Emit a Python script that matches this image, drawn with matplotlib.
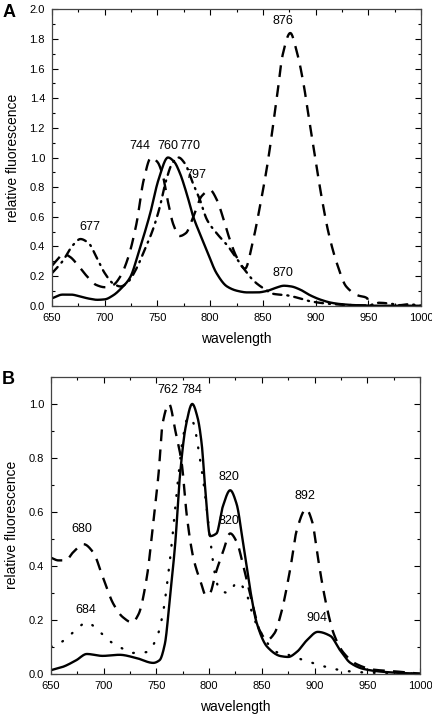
import numpy as np
import matplotlib
matplotlib.use("Agg")
import matplotlib.pyplot as plt
from matplotlib.ticker import MultipleLocator, FormatStrFormatter

plt.rcParams["font.family"] = ["Liberation Sans", "DejaVu Sans"]

# ── Panel A ──────────────────────────────────────────────────────────────────
a_solid_x = [650, 660, 668, 677, 685, 693, 700, 708, 716, 724, 733, 743, 751, 760,
             766, 771, 778, 784, 790, 797, 806, 816, 826, 835, 845, 854, 862, 870,
             877, 885, 895, 905, 915, 925, 940, 960, 1000]
a_solid_y = [0.05, 0.075, 0.075, 0.062, 0.048, 0.04, 0.043, 0.07, 0.12, 0.19, 0.38, 0.62,
             0.85, 1.0, 0.97, 0.9, 0.75, 0.6, 0.49, 0.37, 0.22, 0.13, 0.1, 0.09, 0.09,
             0.1, 0.12, 0.135, 0.13, 0.11, 0.07, 0.04, 0.02, 0.01, 0.003, 0.0, 0.0]

a_dash_x = [650, 655, 661, 667, 675, 683, 692, 700, 708, 715, 722, 730, 737, 744, 750,
            755, 760, 765, 771, 777, 784, 792, 800, 806, 812, 818, 825, 833, 841, 848,
            854, 863, 869, 876, 882, 888, 894, 900, 906, 912, 920, 929, 940, 949, 950.5]
a_dash_y = [0.27, 0.31, 0.35, 0.33, 0.27, 0.2, 0.14, 0.125, 0.14, 0.2, 0.32, 0.55, 0.85,
            1.0, 0.97, 0.88, 0.7, 0.55, 0.47, 0.49, 0.6, 0.74, 0.78, 0.72, 0.6, 0.46,
            0.33, 0.25, 0.45, 0.7, 0.94, 1.39, 1.7, 1.84, 1.72, 1.52, 1.25, 0.98, 0.72,
            0.5, 0.29, 0.13, 0.07, 0.05, 0.0]

a_dd_x = [650, 660, 670, 677, 685, 692, 700, 708, 715, 722, 730, 738, 745, 752, 758,
          764, 770, 776, 784, 790, 797, 806, 816, 824, 833, 841, 850, 860, 873, 885,
          895, 910, 930, 950, 960, 970, 980, 988, 1000]
a_dd_y = [0.22, 0.3, 0.41, 0.45, 0.42, 0.33, 0.22, 0.15, 0.13, 0.16, 0.25, 0.38, 0.5,
          0.66, 0.84, 0.96, 1.0, 0.96, 0.82, 0.72, 0.58, 0.49, 0.41, 0.33, 0.24, 0.17,
          0.12, 0.08, 0.07, 0.05, 0.03, 0.015, 0.005, 0.002, 0.02, 0.015, 0.004, 0.01, 0.0]

a_labels = ["876", "744", "760", "770", "797", "677", "870"]
a_label_x = [869, 733, 760, 781, 786, 686, 869]
a_label_y = [1.92, 1.08, 1.08, 1.08, 0.88, 0.53, 0.22]

# ── Panel B ──────────────────────────────────────────────────────────────────
b_solid_x = [650, 661, 674, 684, 699, 715, 731, 747, 753, 758, 763, 768, 772, 778,
             784, 789, 793, 796, 801, 807, 813, 820, 826, 832, 839, 845, 855, 868,
             875, 883, 893, 903, 915, 924, 934, 946, 962, 980, 1000]
b_solid_y = [0.013, 0.025, 0.05, 0.073, 0.066, 0.07, 0.058, 0.04, 0.05, 0.11, 0.29,
             0.49, 0.72, 0.92, 1.0, 0.95, 0.85, 0.7, 0.51, 0.52, 0.62, 0.68, 0.63, 0.49,
             0.31, 0.19, 0.1, 0.065, 0.062, 0.08, 0.125, 0.155, 0.14, 0.088, 0.04,
             0.018, 0.008, 0.003, 0.0]

b_dash_x = [650, 657, 664, 671, 681, 690, 699, 709, 718, 727, 733, 741, 747, 752, 756,
            762, 768, 774, 779, 785, 792, 797, 801, 806, 813, 820, 826, 833, 841, 848,
            855, 862, 868, 877, 883, 892, 898, 902, 907, 912, 918, 927, 940, 956, 978,
            1000]
b_dash_y = [0.43, 0.42, 0.42, 0.45, 0.48, 0.45, 0.36, 0.26, 0.21, 0.19, 0.22, 0.36,
            0.56, 0.74, 0.93, 1.0, 0.9, 0.78, 0.58, 0.43, 0.34, 0.29, 0.3, 0.37, 0.45,
            0.52, 0.49, 0.39, 0.26, 0.16, 0.125, 0.15, 0.22, 0.39, 0.53, 0.61, 0.56,
            0.46, 0.34, 0.24, 0.15, 0.08, 0.035, 0.015, 0.008, 0.0]

b_dot_x = [650, 661, 673, 684, 695, 706, 717, 728, 741, 750, 756, 761, 765, 770, 775,
           780, 785, 790, 795, 801, 805, 810, 818, 827, 835, 842, 848, 856, 864, 875,
           886, 898, 911, 922, 935, 950, 1000]
b_dot_y = [0.1, 0.12, 0.16, 0.19, 0.16, 0.12, 0.095, 0.077, 0.08, 0.13, 0.22, 0.36,
           0.5, 0.7, 0.87, 0.95, 0.93, 0.83, 0.7, 0.5, 0.38, 0.31, 0.3, 0.34, 0.3, 0.21,
           0.16, 0.11, 0.08, 0.07, 0.055, 0.04, 0.025, 0.015, 0.008, 0.004, 0.0]

b_labels = ["762", "784", "820", "820", "892", "680", "684", "904"]
b_label_x = [761, 784, 819, 819, 891, 679, 683, 902]
b_label_y = [1.05, 1.05, 0.73, 0.565, 0.66, 0.537, 0.237, 0.206]


def pchip(xs, ys, n=1200):
    """Monotone cubic (PCHIP) through the read-off points, for a smooth trace."""
    x = np.asarray(xs, float)
    y = np.asarray(ys, float)
    h = np.diff(x)
    d = np.diff(y) / h
    m = np.zeros_like(y)
    for k in range(1, len(x) - 1):
        if d[k - 1] * d[k] > 0:
            w1 = 2 * h[k] + h[k - 1]
            w2 = h[k] + 2 * h[k - 1]
            m[k] = (w1 + w2) / (w1 / d[k - 1] + w2 / d[k])
    m[0], m[-1] = d[0], d[-1]
    xx = np.linspace(x[0], x[-1], n)
    i = np.clip(np.searchsorted(x, xx) - 1, 0, len(x) - 2)
    t = (xx - x[i]) / h[i]
    h00 = 2 * t**3 - 3 * t**2 + 1
    h10 = t**3 - 2 * t**2 + t
    h01 = -2 * t**3 + 3 * t**2
    h11 = t**3 - t**2
    yy = h00 * y[i] + h10 * h[i] * m[i] + h01 * y[i + 1] + h11 * h[i] * m[i + 1]
    return xx, yy


def style_axes(ax, ymax, ymajor):
    ax.set_xlim(650, 1000)
    ax.set_ylim(0, ymax)
    ax.xaxis.set_major_locator(MultipleLocator(50))
    ax.xaxis.set_minor_locator(MultipleLocator(25))
    ax.yaxis.set_major_locator(MultipleLocator(ymajor))
    ax.yaxis.set_minor_locator(MultipleLocator(0.1))
    ax.yaxis.set_major_formatter(FormatStrFormatter("%.1f"))
    ax.tick_params(which="both", direction="in", top=True, right=True,
                   labelsize=8, pad=5, width=0.8)
    ax.tick_params(which="major", length=4)
    ax.tick_params(which="minor", length=2.5)
    for s in ax.spines.values():
        s.set_linewidth(0.9)
        s.set_color("#444444")
    ax.set_xlabel("wavelength", fontsize=10, labelpad=7)
    ax.set_ylabel("relative fluorescence", fontsize=10, labelpad=7)


fig = plt.figure(figsize=(4.32, 7.16), dpi=100)
axA = fig.add_axes([0.1204, 0.573, 0.8542, 0.414])
axB = fig.add_axes([0.118, 0.0591, 0.8542, 0.4144])

lw = 1.7
axA.plot(*pchip(a_solid_x, a_solid_y), color="black", lw=lw)
axA.plot(*pchip(a_dash_x, a_dash_y), color="black", lw=lw, dashes=(5, 3.5))
axA.plot(*pchip(a_dd_x, a_dd_y), color="black", lw=lw,
         dashes=(3.5, 2.5, 0.5, 2.5), dash_capstyle="round")
for t, x, y in zip(a_labels, a_label_x, a_label_y):
    axA.text(x, y, t, ha="center", va="center", fontsize=9)
style_axes(axA, 2.0, 0.2)

axB.plot(*pchip(b_solid_x, b_solid_y), color="black", lw=lw)
axB.plot(*pchip(b_dash_x, b_dash_y), color="black", lw=lw, dashes=(5, 3.5))
axB.plot(*pchip(b_dot_x, b_dot_y), color="black", lw=lw,
         dashes=(0.3, 5.0), dash_capstyle="round")
for t, x, y in zip(b_labels, b_label_x, b_label_y):
    axB.text(x, y, t, ha="center", va="center", fontsize=9)
style_axes(axB, 1.1, 0.2)

fig.text(0.005, 0.995, "A", fontsize=13, fontweight="bold", va="top", ha="left")
fig.text(0.005, 0.482, "B", fontsize=13, fontweight="bold", va="top", ha="left")

fig.savefig("out.png", dpi=100)
